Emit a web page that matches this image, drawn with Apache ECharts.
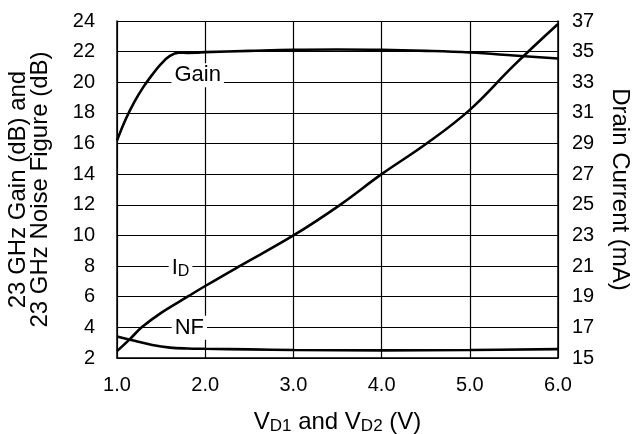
<!DOCTYPE html>
<html>
<head>
<meta charset="utf-8">
<script src="https://cdn.jsdelivr.net/npm/echarts@6/dist/echarts.min.js"></script>
<style>
html,body{margin:0;padding:0;background:#fff;}
#c{width:637px;height:434px;}
</style>
</head>
<body>
<div id="c"></div>
<script>
// X axis ticks and ranges
const xTicks = [1.0, 2.0, 3.0, 4.0, 5.0, 6.0];
const leftTicks = [2, 4, 6, 8, 10, 12, 14, 16, 18, 20, 22, 24];
const rightTicks = [15, 17, 19, 21, 23, 25, 27, 29, 31, 33, 35, 37];

// Gain (dB)
const gainV  = [1.0, 1.1, 1.2, 1.3, 1.4, 1.5, 1.6, 1.7, 1.8, 1.9, 2.0, 2.5, 3.0, 3.5, 4.0, 4.5, 5.0, 5.5, 6.0];
const gainDB = [16.2, 17.6, 18.75, 19.7, 20.5, 21.2, 21.72, 21.93, 21.92, 21.93, 21.97, 22.05, 22.12, 22.14, 22.12, 22.05, 21.94, 21.75, 21.55];

// Noise figure (dB)
const nfV  = [1.0, 1.2, 1.4, 1.6, 1.8, 2.0, 2.5, 3.0, 4.0, 5.0, 6.0];
const nfDB = [3.4, 3.12, 2.85, 2.68, 2.62, 2.6, 2.56, 2.52, 2.5, 2.52, 2.58];

// Drain current (mA)
const idV  = [1.0, 1.14, 1.28, 1.5, 1.8, 2.0, 2.39, 3.0, 3.53, 4.0, 4.51, 5.0, 5.5, 6.0];
const idMA = [15.45, 16.2, 17.0, 17.95, 19.0, 19.7, 21.0, 23.0, 25.0, 27.0, 29.0, 31.2, 34.1, 36.8];

// Curve labels
const gainLabel = [1.915, 20.46];
const idLabel = [1.72, 20.89];
const nfLabel = [1.82, 3.98];

const pairs = (xs, ys) => xs.map((x, i) => [x, ys[i]]);
const FONT = '"Liberation Sans", Arial, Helvetica, sans-serif';

function lbl(coord, text, rich) {
  return {
    symbol: 'rect', symbolSize: 1,
    itemStyle: {color: 'rgba(0,0,0,0)'},
    data: [{coord: coord}],
    label: {
      show: true, position: 'inside', formatter: text,
      color: '#000', fontFamily: FONT, fontSize: 22,
      backgroundColor: '#fff', padding: [1, 3, 1, 3],
      rich: rich || {}
    }
  };
}

const chart = echarts.init(document.getElementById('c'), null, {renderer: 'canvas'});
chart.setOption({
  animation: false,
  backgroundColor: '#fff',
  textStyle: {fontFamily: FONT, color: '#000'},
  grid: {left: 117, right: 79, top: 21, bottom: 76, containLabel: false, outerBoundsMode: 'none'},
  xAxis: {
    type: 'value', min: xTicks[0], max: xTicks[xTicks.length - 1], interval: 1,
    name: '{a|V}{b|D1}{a| and V}{b|D2}{a| (V)}',
    nameLocation: 'middle', nameGap: 51,
    nameTextStyle: {color: '#000', fontFamily: FONT, rich: {
      a: {fontSize: 24, color: '#000', fontFamily: FONT},
      b: {fontSize: 17, color: '#000', fontFamily: FONT, padding: [9, 0, 0, 0]}
    }},
    axisLine: {show: true, lineStyle: {color: '#000', width: 1.5}},
    axisTick: {show: false},
    axisLabel: {color: '#000', fontSize: 20, fontFamily: FONT, margin: 17,
      formatter: v => v.toFixed(1)},
    splitLine: {show: true, lineStyle: {color: '#000', width: 1.2}}
  },
  yAxis: [{
    type: 'value', min: leftTicks[0], max: leftTicks[leftTicks.length - 1], interval: 2,
    position: 'left',
    name: '23 GHz Gain (dB) and\n23 GHz Noise Figure (dB)',
    nameLocation: 'middle', nameGap: 66, nameRotate: 90,
    nameTextStyle: {color: '#000', fontFamily: FONT, fontSize: 24, lineHeight: 22},
    axisLine: {show: true, lineStyle: {color: '#000', width: 1.5}},
    axisTick: {show: false},
    axisLabel: {color: '#000', fontSize: 20, fontFamily: FONT, margin: 22},
    splitLine: {show: true, lineStyle: {color: '#000', width: 1.2}}
  }, {
    type: 'value', min: rightTicks[0], max: rightTicks[rightTicks.length - 1], interval: 2,
    position: 'right',
    name: 'Drain Current (mA)',
    nameLocation: 'middle', nameGap: 50, nameRotate: -90,
    nameTextStyle: {color: '#000', fontFamily: FONT, fontSize: 24},
    axisLine: {show: true, lineStyle: {color: '#000', width: 1.5}},
    axisTick: {show: false},
    axisLabel: {color: '#000', fontSize: 20, fontFamily: FONT, margin: 14},
    splitLine: {show: false}
  }],
  series: [{
    name: 'Gain', type: 'line', yAxisIndex: 0, data: pairs(gainV, gainDB),
    showSymbol: false, symbol: 'none', smooth: 0.4,
    lineStyle: {color: '#000', width: 2.6},
    markPoint: lbl(gainLabel, 'Gain')
  }, {
    name: 'NF', type: 'line', yAxisIndex: 0, data: pairs(nfV, nfDB),
    showSymbol: false, symbol: 'none', smooth: 0.4,
    lineStyle: {color: '#000', width: 2.6},
    markPoint: lbl(nfLabel, 'NF')
  }, {
    name: 'ID', type: 'line', yAxisIndex: 1, data: pairs(idV, idMA),
    showSymbol: false, symbol: 'none', smooth: 0.4,
    lineStyle: {color: '#000', width: 2.6},
    markPoint: lbl(idLabel, '{a|I}{b|D}', {
      a: {fontSize: 22, color: '#000', fontFamily: FONT},
      b: {fontSize: 16, color: '#000', fontFamily: FONT, padding: [8, 0, 0, 0]}
    })
  }]
});
</script>
</body>
</html>
